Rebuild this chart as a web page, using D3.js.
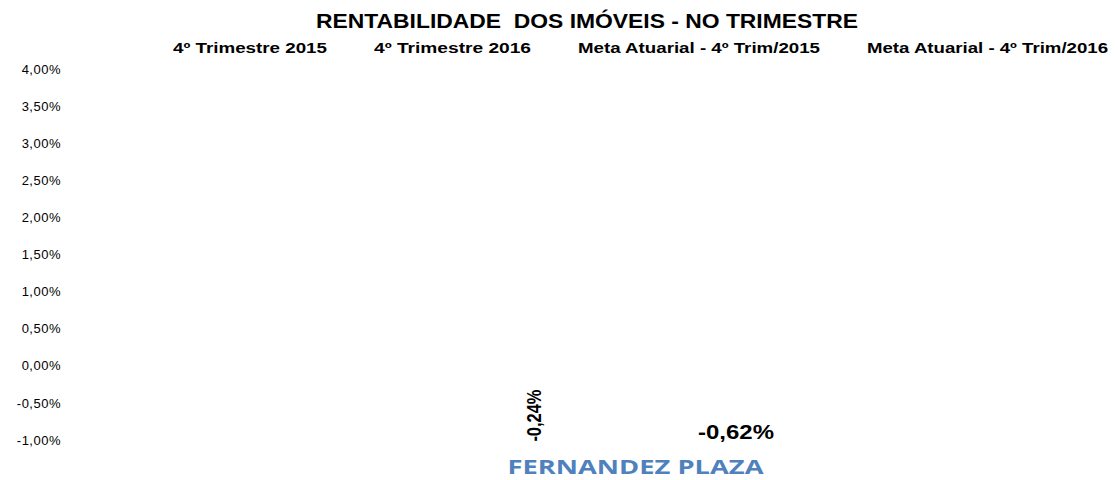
<!DOCTYPE html>
<html>
<head>
<meta charset="utf-8">
<script src="https://cdn.jsdelivr.net/npm/d3@7"></script>
<style>
  html, body { margin: 0; padding: 0; background: #fff; }
  svg { display: block; }
</style>
</head>
<body>
<svg id="chart" width="1118" height="480"></svg>
<script>
// Quarterly return of the property, one category, four series
const categories = ["FERNANDEZ PLAZA"];
const seriesNames = [
  "4º Trimestre 2015",
  "4º Trimestre 2016",
  "Meta Atuarial - 4º Trim/2015",
  "Meta Atuarial - 4º Trim/2016"
];
const trimestre2015 = [null];
const trimestre2016 = [-0.24];
const meta2015 = [null];
const meta2016 = [-0.62];
const seriesValues = [trimestre2015, trimestre2016, meta2015, meta2016];
const yTicks = [4, 3.5, 3, 2.5, 2, 1.5, 1, 0.5, 0, -0.5, -1];

const svg = d3.select("#chart");
const plot = { left: 70, right: 1105, top: 69, bottom: 440 };

const fmt = v => (v < 0 ? "-" : "") + Math.abs(v).toFixed(2).replace(".", ",") + "%";

const y = d3.scaleLinear().domain([-1, 4]).range([plot.bottom, plot.top]);
const x0 = d3.scaleBand().domain(categories).range([plot.left, plot.right])
  .paddingInner(0).paddingOuter(0.807);
const x1 = d3.scaleBand().domain(seriesNames).range([0, x0.bandwidth()]);

// Title
svg.append("text")
  .attr("x", 316).attr("y", 28)
  .attr("font-family", "Liberation Sans, Arial, sans-serif")
  .attr("font-weight", "bold").attr("font-size", 21)
  .attr("textLength", 542).attr("lengthAdjust", "spacingAndGlyphs")
  .attr("fill", "#000")
  .text("RENTABILIDADE\u00a0 DOS IMÓVEIS - NO TRIMESTRE");

// Legend (series markers are white)
const legendWidths = [154, 157, 242, 241];
let lx = 173;
seriesNames.forEach((name, i) => {
  svg.append("rect").attr("x", lx - 14).attr("y", 43).attr("width", 9).attr("height", 9)
    .attr("fill", "#fff");
  svg.append("text")
    .attr("x", lx).attr("y", 53)
    .attr("font-family", "Liberation Sans, Arial, sans-serif")
    .attr("font-weight", "bold").attr("font-size", 14)
    .attr("textLength", legendWidths[i]).attr("lengthAdjust", "spacingAndGlyphs")
    .attr("fill", "#000")
    .text(name);
  lx += legendWidths[i] + 47;
});

// Y axis labels
const yAxis = d3.axisLeft(y).tickValues(yTicks).tickFormat(fmt).tickSize(0).tickPadding(0);
const gy = svg.append("g").attr("transform", `translate(${61},0)`).call(yAxis);
gy.select(".domain").remove();
gy.selectAll("text")
  .attr("font-family", "Liberation Sans, Arial, sans-serif")
  .attr("font-size", 13)
  .attr("letter-spacing", 0.5)
  .attr("fill", "#000");

// Bars (white fill)
const g = svg.append("g");
categories.forEach((cat, ci) => {
  seriesNames.forEach((name, si) => {
    const v = seriesValues[si][ci];
    if (v == null) return;
    const bx = x0(cat) + x1(name);
    g.append("rect")
      .attr("x", bx).attr("width", x1.bandwidth())
      .attr("y", Math.min(y(v), y(0)))
      .attr("height", Math.abs(y(v) - y(0)))
      .attr("fill", "#fff");
  });
});

// Data labels
const cx = (cat, name) => x0(cat) + x1(name) + x1.bandwidth() / 2;
{
  const v = trimestre2016[0];
  const px = cx(categories[0], seriesNames[1]);
  svg.append("text")
    .attr("transform", `translate(${px + 3},${y(v) + 6}) rotate(-90)`)
    .attr("text-anchor", "end")
    .attr("font-family", "Liberation Sans, Arial, sans-serif")
    .attr("font-weight", "bold").attr("font-size", 20)
    .attr("textLength", 52).attr("lengthAdjust", "spacingAndGlyphs")
    .attr("fill", "#000")
    .text(fmt(v));
}
{
  const v = meta2016[0];
  const px = cx(categories[0], seriesNames[3]);
  svg.append("text")
    .attr("x", px).attr("y", y(v) + 27)
    .attr("text-anchor", "middle")
    .attr("font-family", "Liberation Sans, Arial, sans-serif")
    .attr("font-weight", "bold").attr("font-size", 20)
    .attr("textLength", 76).attr("lengthAdjust", "spacingAndGlyphs")
    .attr("fill", "#000")
    .text(fmt(v));
}

// Category label
svg.append("text")
  .attr("x", x0(categories[0]) + x0.bandwidth() / 2 + 48).attr("y", 474)
  .attr("text-anchor", "middle")
  .attr("font-family", "Open Sans, Lato, sans-serif")
  .attr("font-weight", "bold").attr("font-size", 19)
  .attr("textLength", 256).attr("lengthAdjust", "spacingAndGlyphs")
  .attr("fill", "#4F81BD")
  .text(categories[0]);
</script>
</body>
</html>
